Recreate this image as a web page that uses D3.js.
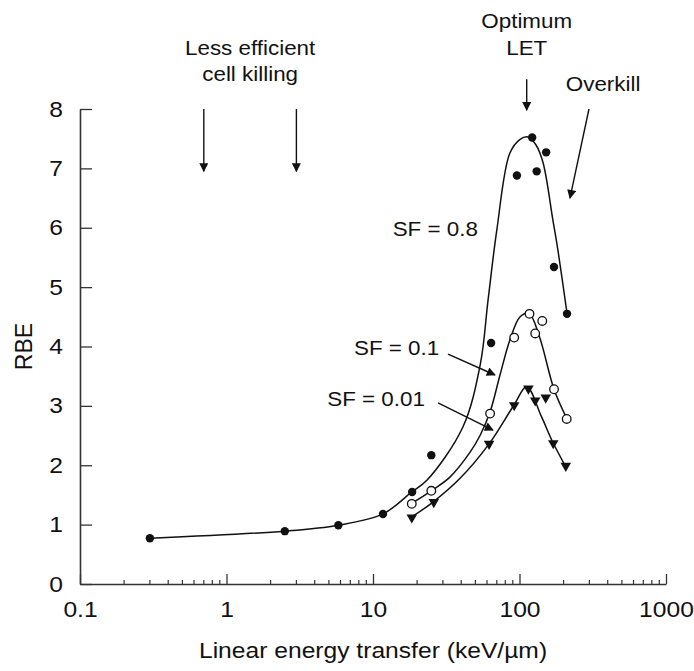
<!DOCTYPE html>
<head>
  <meta charset="utf-8">
  <script src="https://cdn.jsdelivr.net/npm/d3@7"></script>
  <style>
    body { margin: 0; background: #fff; }
    text { font-family: "Liberation Sans", Arial, sans-serif; fill: #111; }
  </style>
</head>
<body>
  <script>
    // measured points
    var sf08Let = [0.3, 2.5, 5.8, 11.7, 18.5, 25, 64, 96, 122, 131, 152, 172, 211];
    var sf08Rbe = [0.77, 0.89, 0.99, 1.18, 1.55, 2.17, 4.06, 6.88, 7.52, 6.95, 7.27, 5.34, 4.55];

    var sf01Let = [18.4, 25, 63, 92, 117, 128, 143, 172, 210];
    var sf01Rbe = [1.35, 1.57, 2.87, 4.15, 4.55, 4.22, 4.43, 3.28, 2.78];

    var sf001Let = [18.4, 26, 62, 92, 115, 128, 151, 170, 207];
    var sf001Rbe = [1.12, 1.38, 2.36, 3.01, 3.29, 3.09, 3.14, 2.37, 1.99];

    // fitted curves
    var fit08Let = [0.3, 2.5, 5.8, 11.7, 18.4, 23.4, 41, 54, 61, 70, 86, 101, 114, 130, 145, 169, 183, 211];
    var fit08Rbe = [0.77, 0.89, 0.99, 1.18, 1.55, 1.75, 2.64, 3.7, 4.78, 5.96, 7.26, 7.49, 7.53, 7.39, 7.09, 6.13, 5.62, 4.56];

    var fit01Let = [18.4, 25, 33.5, 46, 54, 63, 73.6, 86, 101, 116, 137, 172, 211];
    var fit01Rbe = [1.36, 1.57, 1.8, 2.22, 2.51, 2.9, 3.52, 4.11, 4.5, 4.56, 4.16, 3.28, 2.78];

    var fit001Let = [18.4, 25.7, 39.3, 62, 91.5, 112, 140, 170, 207];
    var fit001Rbe = [1.13, 1.38, 1.78, 2.36, 3.01, 3.32, 2.84, 2.37, 1.97];

    var xTicks = [0.1, 1, 10, 100, 1000];
    var xTickLabels = ["0.1", "1", "10", "100", "1000"];
    var yTicks = [0, 1, 2, 3, 4, 5, 6, 7, 8];

    var margin = {top: 109, right: 28, bottom: 87, left: 80};
    var W = 694, H = 671;
    var sx = 1.12; // the source lettering is a little wide

    var svg = d3.select("body").append("svg")
      .attr("width", W)
      .attr("height", H);

    var x = d3.scaleLog()
      .domain([0.1, 1000])
      .range([margin.left, W - margin.right]);

    var y = d3.scaleLinear()
      .domain([0, 8])
      .range([H - margin.bottom, margin.top]);

    var defs = svg.append("defs");
    defs.append("marker")
      .attr("id", "head")
      .attr("viewBox", "0 0 10 10")
      .attr("refX", 9).attr("refY", 5)
      .attr("markerWidth", 10).attr("markerHeight", 9)
      .attr("markerUnits", "userSpaceOnUse")
      .attr("orient", "auto")
      .append("path")
      .attr("d", "M0,0L10,5L0,10Z")
      .attr("fill", "#111");

    function label(px, py, str, anchor, size) {
      svg.append("text")
        .attr("transform", "translate(" + px + "," + py + ") scale(" + sx + ",1)")
        .attr("text-anchor", anchor)
        .style("font-size", size + "px")
        .text(str);
    }

    // x axis, major + minor ticks
    var minor = [];
    [0.1, 1, 10, 100].forEach(function(d) {
      for (var k = 2; k <= 9; k++) minor.push(d * k);
    });

    var gx = svg.append("g")
      .attr("transform", "translate(0," + y(0) + ")")
      .call(d3.axisBottom(x).tickValues(xTicks)
        .tickFormat(function(d, i) { return xTickLabels[i]; })
        .tickSizeInner(-10).tickSizeOuter(0).tickPadding(17));
    gx.select(".domain").attr("stroke", "#333").attr("stroke-width", 1.6);
    gx.selectAll(".tick line").attr("stroke", "#333").attr("stroke-width", 1.3);
    gx.selectAll(".tick text")
      .style("font-size", "22px")
      .attr("transform", "scale(" + sx + ",1)");

    svg.append("g")
      .attr("transform", "translate(0," + y(0) + ")")
      .selectAll("line").data(minor)
      .enter().append("line")
        .attr("x1", x).attr("x2", x)
        .attr("y1", 0).attr("y2", -4)
        .attr("stroke", "#333").attr("stroke-width", 1.2);

    var gy = svg.append("g")
      .attr("transform", "translate(" + x(0.1) + ",0)")
      .call(d3.axisLeft(y).tickValues(yTicks)
        .tickSizeInner(-12).tickSizeOuter(0).tickPadding(17));
    gy.select(".domain").attr("stroke", "#333").attr("stroke-width", 1.6);
    gy.selectAll(".tick line").attr("stroke", "#333").attr("stroke-width", 1.3);
    gy.selectAll(".tick text")
      .style("font-size", "22px")
      .attr("x", -17 / sx)
      .attr("transform", "scale(" + sx + ",1)");

    // axis titles
    label((x(0.1) + x(1000)) / 2, 658, "Linear energy transfer (keV/\u00b5m)", "middle", 22);
    svg.append("text")
      .attr("transform", "translate(32," + y(4) + ") rotate(-90)")
      .attr("text-anchor", "middle")
      .style("font-size", "23px")
      .text("RBE");

    // curves
    var line = d3.line()
      .x(function(d) { return x(d[0]); })
      .y(function(d) { return y(d[1]); })
      .curve(d3.curveCatmullRom.alpha(0.5));

    [[fit08Let, fit08Rbe], [fit01Let, fit01Rbe], [fit001Let, fit001Rbe]].forEach(function(f) {
      svg.append("path")
        .datum(d3.zip(f[0], f[1]))
        .attr("d", line)
        .attr("fill", "none")
        .attr("stroke", "#111")
        .attr("stroke-width", 1.5);
    });

    // markers
    svg.append("g").selectAll("circle").data(d3.zip(sf08Let, sf08Rbe))
      .enter().append("circle")
        .attr("cx", function(d) { return x(d[0]); })
        .attr("cy", function(d) { return y(d[1]); })
        .attr("r", 4.2)
        .attr("fill", "#111");

    svg.append("g").selectAll("circle").data(d3.zip(sf01Let, sf01Rbe))
      .enter().append("circle")
        .attr("cx", function(d) { return x(d[0]); })
        .attr("cy", function(d) { return y(d[1]); })
        .attr("r", 4.3)
        .attr("fill", "#fff")
        .attr("stroke", "#111")
        .attr("stroke-width", 1.3);

    var tri = d3.symbol().type(d3.symbolTriangle).size(48);
    svg.append("g").selectAll("path").data(d3.zip(sf001Let, sf001Rbe))
      .enter().append("path")
        .attr("d", tri)
        .attr("transform", function(d) {
          return "translate(" + x(d[0]) + "," + y(d[1]) + ") rotate(180)";
        })
        .attr("fill", "#111");

    // annotation arrows: [let0, rbe0, let1, rbe1]
    var arrows = [
      [0.7, 8.0, 0.7, 6.95],
      [3, 8.0, 3, 6.95],
      [112, 8.5, 112, 7.98],
      [298, 8.0, 221, 6.5],
      [32.5, 3.87, 68, 3.52],
      [27.8, 3.05, 65.9, 2.59]
    ];
    svg.append("g").selectAll("line").data(arrows)
      .enter().append("line")
        .attr("x1", function(d) { return x(d[0]); })
        .attr("y1", function(d) { return y(d[1]); })
        .attr("x2", function(d) { return x(d[2]); })
        .attr("y2", function(d) { return y(d[3]); })
        .attr("stroke", "#111")
        .attr("stroke-width", 1.4)
        .attr("marker-end", "url(#head)");

    // annotation text
    label(x(1.45), 55, "Less efficient", "middle", 20);
    label(x(1.45), 81, "cell killing", "middle", 20);
    label(x(112), 28, "Optimum", "middle", 20);
    label(x(112), 55, "LET", "middle", 20);
    label(x(372), 91, "Overkill", "middle", 20);

    label(x(52), y(5.86), "SF = 0.8", "end", 20);
    label(x(28.3), y(3.86), "SF = 0.1", "end", 20);
    label(x(22.6), y(3.0), "SF = 0.01", "end", 20);
  </script>
</body>
